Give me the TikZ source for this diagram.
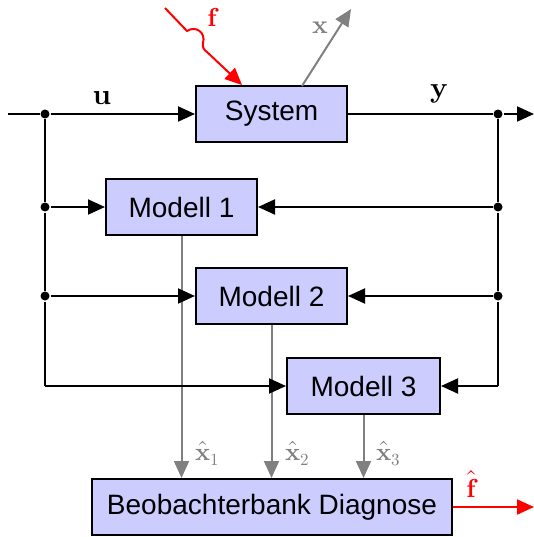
\documentclass[tikz,border=0pt]{standalone}
\usepackage{fontspec}
\usetikzlibrary{arrows.meta}
\newfontfamily\boxfont{Liberation Sans}
\newfontfamily\lblfont{lmroman10-regular}[Extension=.otf,BoldFont=lmroman10-bold]
\definecolor{blockfill}{RGB}{204,204,255}
\definecolor{estgray}{RGB}{128,128,128}
% a thin circumflex set over a bold letter, lifted by #2
\newcommand\hatover[2]{\ooalign{#1\cr\hidewidth\raisebox{#2}{\mdseries\char"02C6}\hidewidth\cr}}
% estimate symbol with a plain subscript
\newcommand\estsym[1]{\hatover{x}{2pt}\raisebox{-5pt}{\mdseries\fontsize{17}{19}\selectfont #1}}
\begin{document}
\begin{tikzpicture}[x=1pt,y=-1pt,line width=2pt,
  block/.style={draw=black,fill=blockfill,minimum width=151pt,minimum height=56pt,
    inner sep=0pt,font=\boxfont\fontsize{28}{32}\selectfont},
  sig/.style={-{Triangle[length=17pt,width=15pt]}},
  jdot/.style={circle,fill=black,inner sep=0pt,minimum size=9pt},
  lbl/.style={font=\lblfont\fontsize{29}{32}\selectfont\bfseries,inner sep=0pt,anchor=base},
  slbl/.style={font=\lblfont\fontsize{26}{30}\selectfont\bfseries,inner sep=0pt,anchor=base},
  elbl/.style={font=\lblfont\fontsize{25}{28}\selectfont\bfseries,inner sep=0pt,anchor=base west,text=estgray}]
\useasboundingbox (0,0) rectangle (534,537);

% blocks
\node[block] (sys) at (271.5,114) {System};
\node[block] (m1) at (181.5,207) {Modell 1};
\node[block] (m2) at (271.5,296) {Modell 2};
\node[block,minimum width=153pt] (m3) at (363.5,386) {Modell 3};
\node[block,minimum width=360pt] (bb) at (272,507) {Beobachterbank Diagnose};

% state estimates (drawn first, so the black signal arrows lie on top)
\draw[sig,estgray] (m1) -- (m1 |- bb.north);
\draw[sig,estgray] (m2) -- (m2 |- bb.north);
\draw[sig,estgray] (m3) -- (m3 |- bb.north);
\node[elbl] (e1) at (194,460) {\estsym{1}};
\node[elbl] (e2) at (284,460) {\estsym{2}};
\node[elbl] (e3) at (375,460) {\estsym{3}};

% branch points of u and y
\coordinate (in) at (8,114);
\node[jdot] (du0) at (45,114) {};
\node[jdot] (du1) at (45,207) {};
\node[jdot] (du2) at (45,296) {};
\coordinate (cu3) at (45,386);
\node[jdot] (dy0) at (498,114) {};
\node[jdot] (dy1) at (498,207) {};
\node[jdot] (dy2) at (498,296) {};
\coordinate (cy3) at (498,386);
\coordinate (out) at (534,114);

% input u
\draw (in) -- (du0);
\draw[sig] (du0) -- (sys);
\node[lbl] (ulab) at (102,105) {u};
\draw (du0) -- (du1) -- (du2) -- (cu3);
\draw[sig] (du1) -- (m1);
\draw[sig] (du2) -- (m2);
\draw[sig] (cu3) -- (m3);

% output y
\draw (sys) -- (dy0);
\node[lbl] (ylab) at (439,98) {y};
\draw[sig] (dy0) -- (out);
\draw (dy0) -- (dy1) -- (dy2) -- (cy3);
\draw[sig] (dy1) -- (m1);
\draw[sig] (dy2) -- (m2);
\draw[sig] (cy3) -- (m3);

% fault f and state x
\coordinate (fs) at (165,8);
\coordinate (xs) at (302,86);
\coordinate (xe) at (351,9);
\draw[sig,red] (fs) -- (187,31) .. controls (196,25) and (206,33) .. (203,43)
  .. controls (202,47) and (204,50) .. (207,52) -- (sys.north -| 242,0);
\node[slbl,text=red] (flab) at (212,27) {f};
\draw[sig,estgray] (xs) -- (xe);
\node[slbl,text=estgray] (xlab) at (320,34) {x};

% fault estimate
\coordinate (fo) at (534,507);
\draw[sig,red] (bb) -- (fo);
\node[slbl,text=red] (fhat) at (471,497) {\hatover{f}{9pt}};
\end{tikzpicture}
\end{document}
